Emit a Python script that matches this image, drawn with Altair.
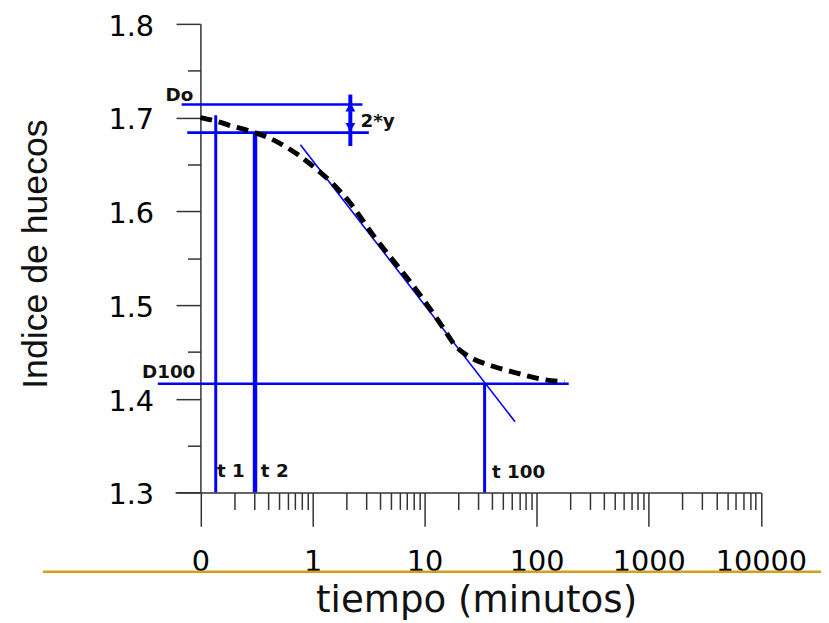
import altair as alt
import pandas as pd

# ---- data ----
t_min = [0.1, 0.14, 0.19, 0.27, 0.38, 0.54, 0.75, 1.06, 1.5, 2.1, 3.6, 5.2,
         7.3, 10.3, 14.4, 19, 25, 40, 64, 110, 177]
indice = [1.700, 1.696, 1.691, 1.686, 1.680, 1.671, 1.660, 1.646, 1.630, 1.611,
          1.572, 1.548, 1.526, 1.502, 1.477, 1.456, 1.445, 1.435, 1.428, 1.421, 1.418]

x_major = [0.1, 1, 10, 100, 1000, 10000]
x_major_labels = ["0", "1", "10", "100", "1000", "10000"]
x_minor = [m * 10 ** k for k in range(-1, 4) for m in range(2, 10)]
y_major = [1.3, 1.4, 1.5, 1.6, 1.7, 1.8]
y_minor = [1.35, 1.45, 1.55, 1.65, 1.75]

# construction lines (Casagrande)
t1, t2, t100 = 0.137, 0.307, 34.3
d0, d2, d100, d_t1 = 1.714, 1.684, 1.416, 1.7025
h_x = [0.068, 0.0763, 0.0417]          # start of horizontal lines
h_x2 = [2.79, 3.18, 193]               # end of horizontal lines
h_y = [d0, d2, d100]
arrow_x = 2.175
arrow_y = [1.6697, 1.7246]
arrow_heads_y = [1.7112, 1.6897]
tan_x = [0.78, 64.1]
tan_y = [1.671, 1.3756]
sep_y = 1.2155
sep_x = [0.00394, 40000]

lab_text = ["Do", "2*y", "D100", "t 1", "t 2", "t 100"]
lab_x = [0.0488, 2.68, 0.0301, 0.1405, 0.3458, 39.9]
lab_y = [1.7172, 1.690, 1.4225, 1.3162, 1.3162, 1.315]

BLUE = "#0000FF"
AX = "#333333"
xs = alt.Scale(type="log", domain=[0.0594, 10000])
ys = alt.Scale(domain=[1.3, 1.8], zero=False)

label_expr = "[" + ",".join("'%s'" % s for s in x_major_labels) + "][indexof([" + \
    ",".join(repr(v) for v in x_major) + "], datum.value)]"

x_axis_major = alt.Axis(values=x_major, labelExpr=label_expr, tickSize=34, labelPadding=22,
                        domain=True, domainColor=AX, domainWidth=1.5, tickColor=AX, tickWidth=1.5,
                        labelFont="DejaVu Sans", labelFontSize=29, labelColor="black",
                        labelFlush=False, labelOverlap=False, grid=False, orient="bottom",
                        title="tiempo (minutos)", titleFont="DejaVu Sans", titleFontSize=37.5,
                        titleFontWeight="normal", titleColor="#111111", titleX=304, titleY=120,
                        titleBaseline="alphabetic", titleAlign="center")
x_axis_minor = alt.Axis(values=x_minor, tickSize=17, labels=False, domain=False, tickColor=AX,
                        tickWidth=1.5, grid=False, title=None, orient="bottom")
y_axis_major = alt.Axis(values=y_major, format=".1f", tickSize=24.6, labelPadding=22.7, offset=-25.6,
                        labelOffset=2.5,
                        domain=True, domainColor=AX, domainWidth=1.5, tickColor=AX, tickWidth=1.5,
                        labelFont="DejaVu Sans", labelFontSize=29, labelColor="black",
                        labelFlush=False, grid=False, orient="left",
                        title="Indice de huecos", titleFont="Liberation Sans", titleFontSize=36,
                        titleFontWeight="normal", titleColor="#111111", titleAngle=270,
                        titleX=-155.6, titleY=232, titleBaseline="alphabetic", titleAlign="center")
y_axis_minor = alt.Axis(values=y_minor, tickSize=13, labels=False, domain=False, tickColor=AX,
                        tickWidth=1.5, grid=False, title=None, orient="left", offset=-25.6)

curve_df = pd.DataFrame({"t": t_min, "e": indice})
curve = alt.Chart(curve_df).mark_line(color="black", strokeWidth=5, strokeDash=[12, 7],
                                      interpolate="monotone").encode(
    x=alt.X("t:Q", scale=xs, axis=x_axis_major),
    y=alt.Y("e:Q", scale=ys, axis=y_axis_major),
)

tan_df = pd.DataFrame({"x": [tan_x[0]], "x2": [tan_x[1]], "y": [tan_y[0]], "y2": [tan_y[1]]})
tangent = alt.Chart(tan_df).mark_rule(color=BLUE, strokeWidth=1.6).encode(
    x=alt.X("x:Q", scale=xs, axis=x_axis_minor), x2="x2:Q",
    y=alt.Y("y:Q", scale=ys, axis=y_axis_minor), y2="y2:Q",
)

h_df = pd.DataFrame({"x": h_x, "x2": h_x2, "y": h_y})
hlines = alt.Chart(h_df).mark_rule(color=BLUE, strokeWidth=2.6).encode(
    x=alt.X("x:Q", scale=xs, axis=None), x2="x2:Q",
    y=alt.Y("y:Q", scale=ys, axis=None),
)

def vline(xv, y0, y1, w):
    df = pd.DataFrame({"x": [xv], "y": [y0], "y2": [y1]})
    return alt.Chart(df).mark_rule(color=BLUE, strokeWidth=w).encode(
        x=alt.X("x:Q", scale=xs, axis=None),
        y=alt.Y("y:Q", scale=ys, axis=None), y2="y2:Q",
    )

v_t1 = vline(t1, 1.3, d_t1, 3)
v_t2 = vline(t2, 1.3, d2, 4.5)
v_t100 = vline(t100, 1.3, d100, 3)
v_arrow = vline(arrow_x, arrow_y[0], arrow_y[1], 4)

heads_df = pd.DataFrame({"x": [arrow_x, arrow_x], "y": arrow_heads_y,
                         "s": ["triangle-up", "triangle-down"]})
heads = alt.Chart(heads_df).mark_point(filled=True, color=BLUE, size=100, opacity=1).encode(
    x=alt.X("x:Q", scale=xs, axis=None),
    y=alt.Y("y:Q", scale=ys, axis=None),
    shape=alt.Shape("s:N", scale=None, legend=None),
)

sep_df = pd.DataFrame({"x": [sep_x[0]], "x2": [sep_x[1]], "y": [sep_y]})
sep = alt.Chart(sep_df).mark_rule(color="#D4A017", strokeWidth=2.5).encode(
    x=alt.X("x:Q", scale=xs, axis=None), x2="x2:Q",
    y=alt.Y("y:Q", scale=ys, axis=None),
)

lab_df = pd.DataFrame({"x": lab_x, "y": lab_y, "txt": lab_text})
labels = alt.Chart(lab_df).mark_text(align="left", baseline="alphabetic", font="DejaVu Sans",
                                     fontWeight="bold", fontSize=18.5, color="#111111").encode(
    x=alt.X("x:Q", scale=xs, axis=None),
    y=alt.Y("y:Q", scale=ys, axis=None),
    text="txt:N",
)

chart = alt.layer(sep, hlines, v_t1, v_t2, v_t100, v_arrow, heads, tangent, curve, labels).resolve_axis(
    x="independent", y="independent"
).properties(
    width=591.6, height=473.3,
    padding={"left": 168.7, "top": 13, "right": 60.7, "bottom": 128.7},
    autosize=alt.AutoSizeParams(type="none"),
    background="white",
).configure_view(stroke=None)

chart.save("out.html", embed_options={"renderer": "svg", "actions": False})
